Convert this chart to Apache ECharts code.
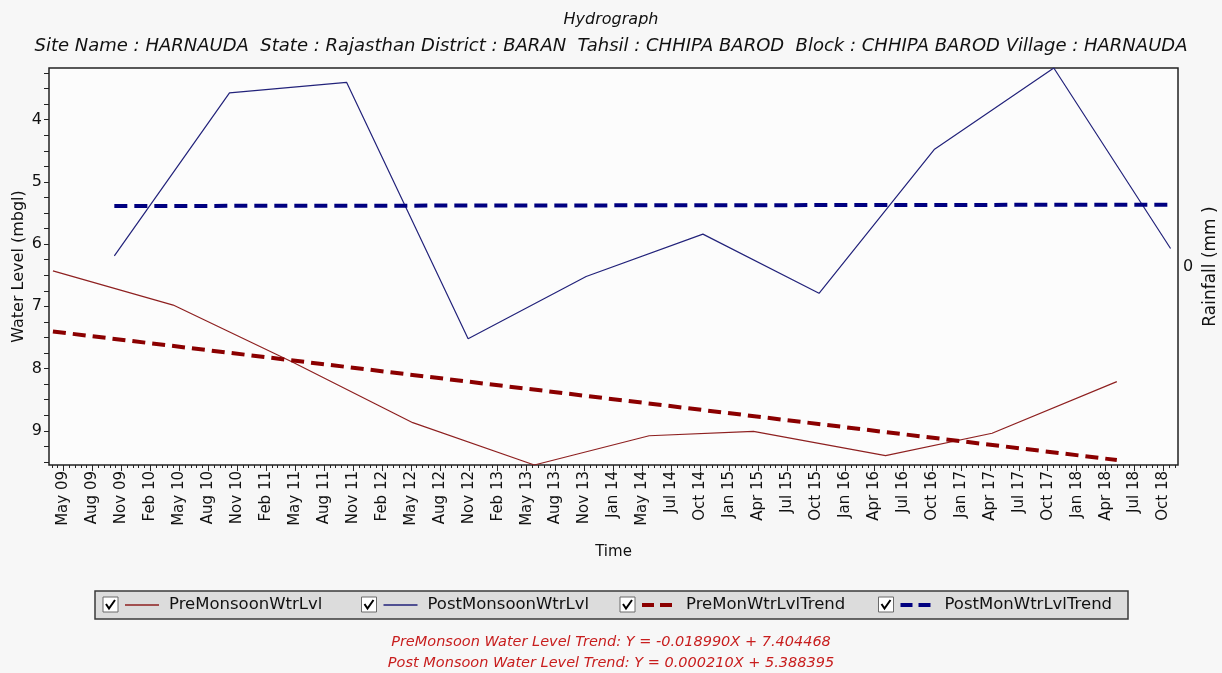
<!DOCTYPE html>
<html>
<head>
<meta charset="utf-8">
<script src="https://cdn.jsdelivr.net/npm/echarts@6/dist/echarts.min.js"></script>
<style>
  html, body { margin: 0; padding: 0; background: #f7f7f7; }
  #chart { width: 1222px; height: 673px; }
</style>
</head>
<body>
<div id="chart"></div>
<script>
// Tick labels along the time axis (evenly spaced slots)
const timeLabels = ['May 09','Aug 09','Nov 09','Feb 10','May 10','Aug 10','Nov 10','Feb 11','May 11','Aug 11',
  'Nov 11','Feb 12','May 12','Aug 12','Nov 12','Feb 13','May 13','Aug 13','Nov 13','Jan 14',
  'May 14','Jul 14','Oct 14','Jan 15','Apr 15','Jul 15','Oct 15','Jan 16','Apr 16','Jul 16',
  'Oct 16','Jan 17','Apr 17','Jul 17','Oct 17','Jan 18','Apr 18','Jul 18','Oct 18'];

// Water level labels (m below ground level)
const levelLabels = [4, 5, 6, 7, 8, 9];

// Pre-monsoon observations
const preDates  = ['2009-04-12','2010-04-23','2011-05-02','2012-05-11','2013-05-26','2014-05-20','2015-04-11','2016-05-28','2017-04-26','2018-05-21'];
const preLevels = [6.43, 6.98, 7.90, 8.87, 9.55, 9.08, 9.01, 9.40, 9.04, 8.21];

// Post-monsoon observations
const postDates  = ['2009-10-21','2010-10-16','2011-10-17','2012-10-31','2013-11-04','2014-11-04','2015-11-02','2016-10-27','2017-11-05','2018-11-05'];
const postLevels = [6.19, 3.57, 3.40, 7.52, 6.52, 5.84, 6.79, 4.48, 3.17, 6.07];

// Trend line end points
const preTrendDates   = ['2009-04-12','2018-05-21'];
const preTrendLevels  = [7.404, 9.47];
const postTrendDates  = ['2009-10-21','2018-11-05'];
const postTrendLevels = [5.388, 5.366];

const seriesNames = ['PreMonsoonWtrLvl','PostMonsoonWtrLvl','PreMonWtrLvlTrend','PostMonWtrLvlTrend'];
const seriesColors = ['#8e2020','#22227a','#8b0000','#000080'];

const trendTexts = [
  'PreMonsoon Water Level Trend: Y = -0.018990X + 7.404468',
  'Post Monsoon Water Level Trend: Y = 0.000210X + 5.388395'
];

// ---- time scale: days counted from the first label slot ----
const DAY_MS = 86400000;
const ORIGIN = Date.UTC(2009, 4, 15);
const SLOT_DAYS = 90.5;
function toDay(s) {
  const p = s.split('-').map(Number);
  return (Date.UTC(p[0], p[1] - 1, p[2]) - ORIGIN) / DAY_MS;
}
const X_MIN = -0.5 * SLOT_DAYS;
const X_MAX = (timeLabels.length - 0.5) * SLOT_DAYS;
const majorTicks = timeLabels.map((_, i) => i * SLOT_DAYS);
const minorTicks = [];
for (let k = -2; k <= timeLabels.length * 5 - 3; k++) minorTicks.push(k * SLOT_DAYS / 5);

const levelTicks = [];
for (let q = 13; q <= 38; q++) levelTicks.push(q / 4);

function pairs(dates, vals) { return dates.map((d, i) => [toDay(d), vals[i]]); }

const FONT = 'DejaVu Sans';
const INK = '#111';

// ---- legend panel drawn as graphics ----
const LEG_X = 95, LEG_Y = 591, LEG_W = 1033, LEG_H = 28, CELL_W = 258.5;
const legendEls = [{
  type: 'rect', shape: { x: LEG_X, y: LEG_Y, width: LEG_W, height: LEG_H },
  style: { fill: '#dcdcdc', stroke: '#3a3a3a', lineWidth: 1.5 }
}];
seriesNames.forEach((name, i) => {
  const cx = LEG_X + 8 + i * CELL_W;
  const cy = LEG_Y + 6;
  legendEls.push({ type: 'rect', shape: { x: cx, y: cy, width: 15, height: 15 },
    style: { fill: '#ffffff', stroke: '#6a6a6a', lineWidth: 1 } });
  legendEls.push({ type: 'polyline', shape: { points: [[cx + 3, cy + 7], [cx + 6, cy + 11.5], [cx + 12, cy + 3]] },
    style: { stroke: '#000', lineWidth: 2, fill: null } });
  const dashed = i >= 2;
  legendEls.push({ type: 'line', shape: { x1: cx + 22, y1: cy + 8, x2: cx + 56, y2: cy + 8 },
    style: { stroke: seriesColors[i], lineWidth: dashed ? 4 : 1.5, lineDash: dashed ? [12, 6] : null } });
  legendEls.push({ type: 'text', x: cx + 66, y: cy + 8,
    style: { text: name, fill: INK, font: '16.5px "DejaVu Sans"', textVerticalAlign: 'middle' } });
});

const chart = echarts.init(document.getElementById('chart'), null, { renderer: 'canvas' });

chart.setOption({
  backgroundColor: '#f7f7f7',
  animation: false,
  title: [
    { text: 'Hydrograph', left: 'center', top: 7,
      textStyle: { fontFamily: FONT, fontStyle: 'italic', fontWeight: 'normal', fontSize: 16, color: INK } },
    { text: 'Site Name : HARNAUDA  State : Rajasthan District : BARAN  Tahsil : CHHIPA BAROD  Block : CHHIPA BAROD Village : HARNAUDA',
      left: 'center', top: 32,
      textStyle: { fontFamily: FONT, fontStyle: 'italic', fontWeight: 'normal', fontSize: 18, color: INK } },
    { text: trendTexts[0], left: 'center', top: 630,
      textStyle: { fontFamily: FONT, fontStyle: 'italic', fontWeight: 'normal', fontSize: 14.5, color: '#c81e1e' } },
    { text: trendTexts[1], left: 'center', top: 651,
      textStyle: { fontFamily: FONT, fontStyle: 'italic', fontWeight: 'normal', fontSize: 14.5, color: '#c81e1e' } }
  ],
  grid: {
    left: 49, top: 68, width: 1129, height: 397,
    outerBoundsMode: 'none', containLabel: false,
    show: true, backgroundColor: '#fcfcfc', borderColor: '#222', borderWidth: 1.5
  },
  xAxis: [
    {
      type: 'value', min: X_MIN, max: X_MAX, position: 'bottom',
      axisLine: { show: false, onZero: false }, splitLine: { show: false },
      axisTick: { show: true, customValues: majorTicks, length: 6, lineStyle: { color: '#222' } },
      axisLabel: {
        customValues: majorTicks, rotate: 90, margin: 6,
        formatter: v => timeLabels[Math.round(v / SLOT_DAYS)] || '',
        fontFamily: FONT, fontSize: 15, color: INK
      },
      name: 'Time', nameLocation: 'middle', nameGap: 80,
      nameTextStyle: { fontFamily: FONT, fontSize: 15, color: INK }
    },
    {
      type: 'value', min: X_MIN, max: X_MAX, position: 'bottom',
      axisLine: { show: false, onZero: false }, splitLine: { show: false }, axisLabel: { show: false },
      axisTick: { show: true, customValues: minorTicks, length: 3, lineStyle: { color: '#222' } }
    }
  ],
  yAxis: [
    {
      type: 'value', inverse: true, min: 'dataMin', max: 'dataMax', position: 'left',
      axisLine: { show: false, onZero: false }, splitLine: { show: false },
      axisTick: { show: true, customValues: levelTicks, length: 5, lineStyle: { color: '#222' } },
      axisLabel: { customValues: levelLabels, margin: 7, fontFamily: FONT, fontSize: 16, color: INK },
      name: 'Water Level (mbgl)', nameLocation: 'middle', nameGap: 22, nameRotate: 90,
      nameMoveOverlap: false,
      nameTextStyle: { fontFamily: FONT, fontSize: 16, color: INK }
    },
    {
      type: 'value', min: -1, max: 1, position: 'right',
      axisLine: { show: false, onZero: false }, splitLine: { show: false }, axisTick: { show: false },
      axisLabel: { customValues: [0], margin: 5, fontFamily: FONT, fontSize: 16, color: INK },
      name: 'Rainfall (mm )', nameLocation: 'middle', nameGap: 24, nameRotate: 90,
      nameMoveOverlap: false,
      nameTextStyle: { fontFamily: FONT, fontSize: 17, color: INK }
    }
  ],
  series: [
    { name: seriesNames[0], type: 'line', showSymbol: false, xAxisIndex: 0, yAxisIndex: 0,
      data: pairs(preDates, preLevels), lineStyle: { color: seriesColors[0], width: 1.2 } },
    { name: seriesNames[1], type: 'line', showSymbol: false, xAxisIndex: 0, yAxisIndex: 0,
      data: pairs(postDates, postLevels), lineStyle: { color: seriesColors[1], width: 1.2 } },
    { name: seriesNames[2], type: 'line', showSymbol: false, xAxisIndex: 0, yAxisIndex: 0,
      data: pairs(preTrendDates, preTrendLevels), lineStyle: { color: seriesColors[2], width: 4, type: [13, 7] } },
    { name: seriesNames[3], type: 'line', showSymbol: false, xAxisIndex: 0, yAxisIndex: 0,
      data: pairs(postTrendDates, postTrendLevels), lineStyle: { color: seriesColors[3], width: 4, type: [13, 7] } }
  ],
  graphic: { elements: legendEls }
});
</script>
</body>
</html>
